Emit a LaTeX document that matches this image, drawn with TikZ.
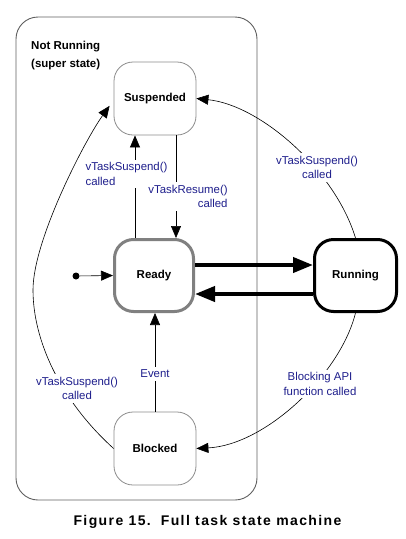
\documentclass[tikz,border=0pt]{standalone}
\usepackage{fontspec}
\setmainfont{Liberation Sans}
\usetikzlibrary{arrows.meta}
\definecolor{labelblue}{RGB}{30,30,140}
\definecolor{statebox}{RGB}{140,140,140}
\definecolor{readybox}{RGB}{128,128,128}
\definecolor{framegray}{RGB}{95,95,95}
\begin{document}
\begin{tikzpicture}[x=1pt,y=-1pt,
  state/.style={draw=statebox, line width=0.8pt, rounded corners=19pt,
    minimum width=82pt, minimum height=73pt, inner sep=0pt,
    font=\fontsize{11.5}{13}\selectfont\bfseries},
  readystate/.style={state, draw=readybox, line width=3pt,
    minimum width=79pt, minimum height=72pt},
  runstate/.style={state, draw=black, line width=3pt,
    minimum width=82pt, minimum height=72pt},
  trans/.style={draw=black, line width=0.6pt, -{Triangle[length=12pt,width=10pt]}},
  bigtrans/.style={draw=black, line width=4pt, -{Triangle[length=20pt,width=15pt]}},
  evlabel/.style={fill=white, text=labelblue, inner xsep=2pt, inner ysep=3pt,
    font=\fontsize{11.4}{14.5}\selectfont},
]
\useasboundingbox (0,0) rectangle (405,539);

% super state frame and its title
\node (super) [draw=framegray, line width=0.9pt, rounded corners=22pt,
  minimum width=241pt, minimum height=483pt, inner sep=0pt] at (136.5,258.5) {};
\node (supertitle) [anchor=north west, align=left, inner sep=0pt,
  font=\fontsize{11.5}{18}\selectfont\bfseries] at (31,40.5)
  {Not Running\\(super state)};

% states
\node (Suspended) [state] at (155,98.5) {Suspended};
\node (Ready) [readystate] at (154,275.5) {Ready};
\node (Running) [runstate] at (355.5,275.5) {Running};
\node (Blocked) [state] at (155,448.5) {Blocked};
\node (init) [circle, fill=black, inner sep=0pt, minimum size=7pt] at (76,276) {};

% transitions
\draw[trans] (init) -- (Ready.west);
\draw[bigtrans] ([yshift=10.5pt]Ready.east) -- ([yshift=10.5pt]Ready.east -| Running.west);
\draw[bigtrans] ([yshift=-18.5pt]Running.west) -- ([yshift=-18.5pt]Running.west -| Ready.east);
\draw[trans] ([xshift=-19pt]Ready.north) -- ([xshift=-19pt]Ready.north |- Suspended.south);
\draw[trans] ([xshift=21pt]Suspended.south) -- ([xshift=21pt]Suspended.south |- Ready.north);
\draw[trans] (Blocked.north) -- (Blocked.north |- Ready.south);
\draw[trans] (Running.north) .. controls (335,170) and (260,105) .. (Suspended.east);
\draw[trans] (Running.south) .. controls (340,375) and (265,445) .. (Blocked.east);
\draw[trans] (Blocked.west) .. controls (60,400) and (33,340) .. (33,290)
  .. controls (33,240) and (85,140) .. ([xshift=-4pt]Suspended.190);

% transition labels
\node (lsuspA) [evlabel, align=left] at (126.5,174) {vTaskSuspend()\\called};
\node (lresume) [evlabel, align=right] at (188,196.5) {vTaskResume()\\called};
\node (lsuspB) [evlabel, align=center] at (317,167.5) {vTaskSuspend()\\called};
\node (lsuspC) [evlabel, align=center] at (77,388.5) {vTaskSuspend()\\called};
\node (lblock) [evlabel, align=center] at (320,384) {Blocking API\\function called};
\node (levent) [evlabel] at (155,374) {Event};

% caption
\node (caption) [font=\fontsize{14}{16}\selectfont\bfseries] at (207.5,522)
  {\addfontfeature{LetterSpace=10}Figure 15.\hspace{10pt}Full task state machine};
\end{tikzpicture}
\end{document}
